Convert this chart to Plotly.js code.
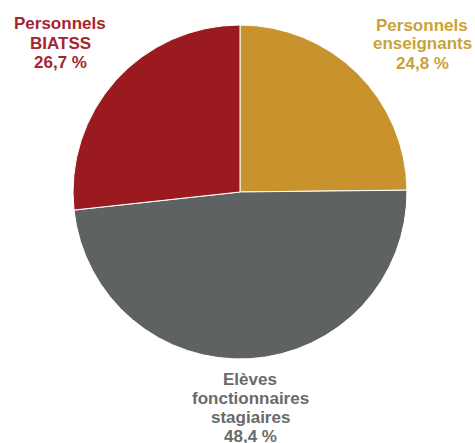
<!DOCTYPE html>
<html><head><meta charset="utf-8">
<script src="https://cdn.plot.ly/plotly-3.0.1.min.js"></script>
<style>html,body{margin:0;padding:0;background:#fff;}#chart{width:475px;height:443px;}</style>
</head><body><div id="chart"></div>
<script>
var categories = ["Personnels enseignants", "Elèves fonctionnaires stagiaires", "Personnels BIATSS"];
var labelLines = [["Personnels", "enseignants"], ["Elèves", "fonctionnaires", "stagiaires"], ["Personnels", "BIATSS"]];
var shares = [24.8, 48.4, 26.7];
var sliceColors = ["#C8922C", "#5E6263", "#9A1A1F"];
var textColors = ["#CBA236", "#6A6A6A", "#A3262D"];
// label block: centre x and y of first line (px), line step (px)
var labelPos = [[422, 25], [250, 379], [60, 24]];
var lineStep = 19;

function fmt(v){ return v.toFixed(1).replace(".", ",") + " %"; }

var annotations = [];
categories.forEach(function(c, i){
  var lines = labelLines[i].concat([fmt(shares[i])]);
  lines.forEach(function(t, k){
    annotations.push({
      xref: "paper", yref: "paper",
      x: labelPos[i][0] / 475, y: 1 - (labelPos[i][1] + k * lineStep) / 443,
      xanchor: "center", yanchor: "middle",
      text: "<b>" + t + "</b>",
      showarrow: false, align: "center", borderpad: 0,
      font: {family: "Liberation Sans, Arial, sans-serif", size: 17, color: textColors[i]}
    });
  });
});

var data = [{
  type: "pie",
  labels: categories,
  values: shares,
  sort: false,
  direction: "clockwise",
  rotation: 0,
  marker: {colors: sliceColors, line: {color: "#ffffff", width: 1}},
  textinfo: "none",
  hoverinfo: "label+percent",
  showlegend: false,
  domain: {x: [0.1537, 0.8568], y: [0.1896, 0.9436]}
}];

var layout = {
  width: 475, height: 443,
  margin: {l: 0, r: 0, t: 0, b: 0},
  paper_bgcolor: "#ffffff",
  showlegend: false,
  annotations: annotations
};

Plotly.newPlot("chart", data, layout, {displayModeBar: false, staticPlot: true});
</script></body></html>
